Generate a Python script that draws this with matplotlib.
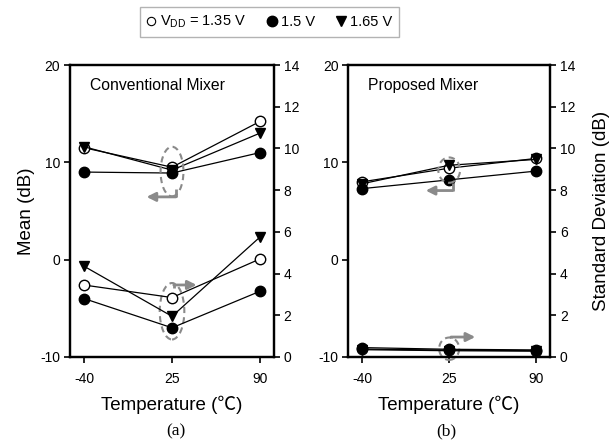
import numpy as np
import matplotlib
matplotlib.use("Agg")
from matplotlib import pyplot as plt
from matplotlib.lines import Line2D
from matplotlib.patches import Ellipse

plt.rcParams['font.family'] = ['Liberation Sans', 'DejaVu Sans']
plt.rcParams['mathtext.fontset'] = 'custom'
plt.rcParams['mathtext.rm'] = 'Liberation Sans'
plt.rcParams['mathtext.it'] = 'Liberation Sans'
plt.rcParams['axes.unicode_minus'] = False

temps = ['-40', '25', '90']
supplies = ['1.35 V', '1.5 V', '1.65 V']

# conventional mixer: mean (left axis) and std dev (right axis), dB
conv_mean_135 = [11.5, 9.5, 14.2]
conv_mean_150 = [9.0, 8.9, 11.0]
conv_mean_165 = [11.6, 9.2, 13.0]
conv_std_135 = [3.45, 2.85, 4.7]
conv_std_150 = [2.8, 1.4, 3.15]
conv_std_165 = [4.35, 1.95, 5.75]

# proposed mixer
prop_mean_135 = [8.0, 9.4, 10.4]
prop_mean_150 = [7.3, 8.2, 9.1]
prop_mean_165 = [7.8, 9.7, 10.3]
prop_std_135 = [0.38, 0.33, 0.3]
prop_std_150 = [0.45, 0.37, 0.34]
prop_std_165 = [0.35, 0.3, 0.28]

styles = [dict(marker='o', mfc='white', mec='black', ms=7.5, mew=1.0),
          dict(marker='o', mfc='black', mec='black', ms=7.5),
          dict(marker='v', mfc='black', mec='black', ms=7.5)]
grey = '#8a8a8a'

fig = plt.figure(figsize=(6.10, 4.41), dpi=100)
ax1 = fig.add_axes([0.1148, 0.1905, 0.3344, 0.6621])
ax2 = fig.add_axes([0.571, 0.1905, 0.3307, 0.6621])


def draw_panel(ax, means, stds, title):
    x = np.arange(len(temps))
    axr = ax.twinx()
    for ys, st in zip(means, styles):
        ax.plot(x, ys, color='black', lw=0.9, clip_on=False, zorder=3, **st)
    for ys, st in zip(stds, styles):
        axr.plot(x, ys, color='black', lw=0.9, clip_on=False, zorder=3, **st)
    ax.set_xlim(-0.16, 2.16)
    ax.set_ylim(-10, 20)
    ax.set_yticks([-10, 0, 10, 20])
    axr.set_ylim(0, 14)
    axr.set_yticks(range(0, 15, 2))
    ax.set_xticks(x)
    ax.set_xticklabels(temps)
    for a in (ax, axr):
        for s in a.spines.values():
            s.set_linewidth(1.6)
        a.tick_params(direction='out', length=4, width=1.2, labelsize=10, pad=3)
    ax.tick_params(axis='x', pad=7)
    ax.set_xlabel('Temperature (\u2103)', fontsize=13.5, labelpad=7,
                  family=['Liberation Sans', 'Noto Sans CJK JP'])
    ax.text(0.098, 0.93, title, transform=ax.transAxes, fontsize=11.3,
            va='center', ha='left')
    return axr


axr1 = draw_panel(ax1, [conv_mean_135, conv_mean_150, conv_mean_165],
                  [conv_std_135, conv_std_150, conv_std_165], 'Conventional Mixer')
axr2 = draw_panel(ax2, [prop_mean_135, prop_mean_150, prop_mean_165],
                  [prop_std_135, prop_std_150, prop_std_165], 'Proposed Mixer')
ax1.set_ylabel('Mean (dB)', fontsize=13.5, labelpad=4)
axr2.set_ylabel('Standard Deviation (dB)', fontsize=13.5, labelpad=13)


def marker_ring(ax, cx, cy, w, h, corner, tip):
    # dashed ring around the 25 C points with an elbow arrow to the axis
    ax.add_patch(Ellipse((cx, cy), w, h, fill=False, ec=grey, lw=1.5,
                         ls=(0, (3, 2)), clip_on=False, zorder=4))
    ax.plot([corner[0], corner[0]], [corner[1], tip[1]], color=grey, lw=2,
            clip_on=False, zorder=4, solid_capstyle='butt')
    ax.annotate('', xy=tip, xytext=(corner[0], tip[1]),
                arrowprops=dict(arrowstyle='-|>', color=grey, lw=2,
                                mutation_scale=13, shrinkA=0, shrinkB=0),
                zorder=4, annotation_clip=False)


marker_ring(ax1, 1.0, 9.05, 0.26, 5.1, (1.045, 7.3), (0.71, 6.45))
marker_ring(ax1, 1.0, -5.3, 0.28, 5.8, (1.02, -2.9), (1.28, -2.6))
marker_ring(ax2, 1.0, 9.2, 0.25, 2.6, (1.04, 7.9), (0.73, 7.1))
marker_ring(ax2, 1.0, -9.15, 0.23, 2.3, (1.02, -8.05), (1.3, -7.95))

fig.text(0.288, 0.012, '(a)', fontsize=12.5, family='Liberation Serif', ha='center')
fig.text(0.732, 0.012, '(b)', fontsize=12.5, family='Liberation Serif', ha='center')

handles = [Line2D([], [], ls='none', marker='o', mfc='white', mec='black', ms=6, mew=0.8),
           Line2D([], [], ls='none', marker='o', mfc='black', mec='black', ms=7.5),
           Line2D([], [], ls='none', marker='v', mfc='black', mec='black', ms=7.5)]
labels = ['V$_{\\mathrm{DD}}$ = ' + supplies[0], supplies[1], supplies[2]]
leg = fig.legend(handles, labels, loc='upper center', bbox_to_anchor=(0.442, 1.0),
                 ncol=3, fontsize=10.5, frameon=True, fancybox=False,
                 edgecolor='#a0a0a0', handlelength=0.6, handletextpad=0.3,
                 columnspacing=1.5, borderpad=0.45)
leg.get_frame().set_linewidth(1.0)

fig.savefig('out.png', dpi=100)
